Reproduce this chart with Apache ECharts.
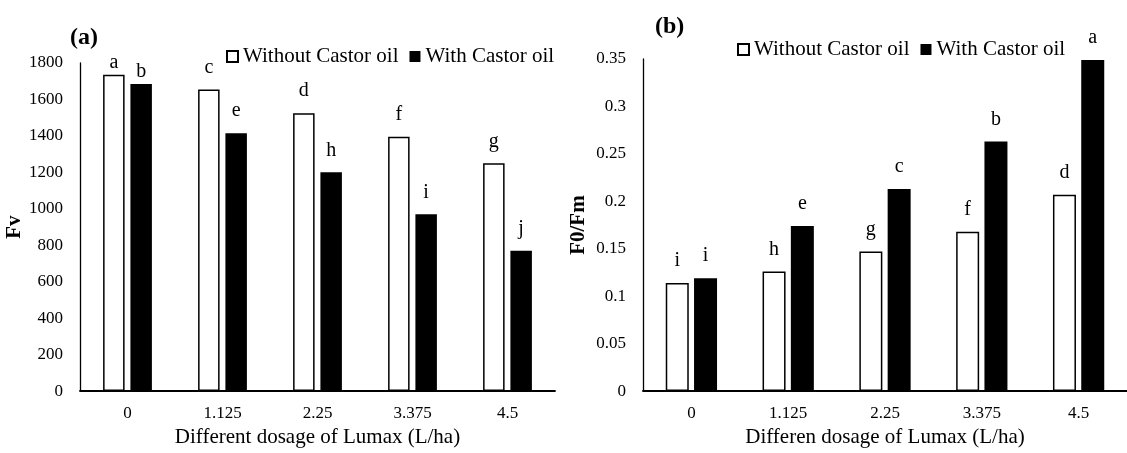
<!DOCTYPE html>
<html>
<head>
<meta charset="utf-8">
<script src="https://cdn.jsdelivr.net/npm/echarts@6/dist/echarts.min.js"></script>
<style>
  html, body { margin: 0; padding: 0; background: #fff; }
  #chart { width: 1127px; height: 453px; }
</style>
</head>
<body>
<div id="chart"></div>
<script>
// dosage categories (L/ha)
var categories = ['0', '1.125', '2.25', '3.375', '4.5'];

// (a) Fv
var fvWithout = [1735, 1655, 1525, 1395, 1250];
var fvWith = [1685, 1415, 1200, 970, 770];
var fvWithoutLetters = ['a', 'c', 'd', 'f', 'g'];
var fvWithLetters = ['b', 'e', 'h', 'i', 'j'];

// (b) F0/Fm
var ratioWithout = [0.114, 0.126, 0.147, 0.168, 0.207];
var ratioWith = [0.119, 0.174, 0.213, 0.263, 0.349];
var ratioWithoutLetters = ['i', 'h', 'g', 'f', 'd'];
var ratioWithLetters = ['i', 'e', 'c', 'b', 'a'];

var FONT = "'Liberation Serif', 'Times New Roman', serif";
var NAME_WITHOUT = 'Without Castor oil';
var NAME_WITH = 'With Castor oil';

function barSeries(name, axisIdx, values, letters, white, tightFirst, barWidth, barGap) {
    return {
        name: name,
        type: 'bar',
        xAxisIndex: axisIdx,
        yAxisIndex: axisIdx,
        barWidth: barWidth,
        barGap: barGap,
        itemStyle: white
            ? { color: '#fff', borderColor: '#000', borderWidth: 1.5 }
            : { color: '#000', borderColor: '#000', borderWidth: 0 },
        label: {
            show: true,
            position: 'top',
            distance: 12,
            fontFamily: FONT,
            fontSize: 20,
            color: '#000',
            formatter: function(p) { return letters[p.dataIndex]; }
        },
        data: values.map(function(v, i) {
            return (tightFirst && i === 0) ? { value: v, label: { distance: 2 } } : v;
        })
    };
}

function xAx(idx, name, gap) {
    return {
        type: 'category',
        gridIndex: idx,
        data: categories,
        axisLine: { lineStyle: { color: '#000', width: 1.8 } },
        axisTick: { show: false },
        axisLabel: { fontFamily: FONT, fontSize: 17, color: '#000', margin: 14 },
        name: name,
        nameLocation: 'middle',
        nameGap: gap,
        nameTextStyle: { fontFamily: FONT, fontSize: 21, color: '#000' }
    };
}

function yAx(idx, name, max, interval, gap) {
    return {
        type: 'value',
        gridIndex: idx,
        min: 0,
        max: max,
        interval: interval,
        axisLine: { show: true, lineStyle: { color: '#000', width: 1.3 } },
        axisTick: { show: false },
        splitLine: { show: false },
        axisLabel: {
            fontFamily: FONT, fontSize: 17, color: '#000', margin: 17,
            formatter: function(v) { return String(+v.toFixed(4)); }
        },
        name: name,
        nameLocation: 'middle',
        nameGap: gap,
        nameTextStyle: { fontFamily: FONT, fontSize: 21, fontWeight: 'bold', color: '#000' }
    };
}

function legendAt(left, top) {
    return {
        left: left,
        top: top,
        padding: 0,
        itemGap: 11,
        itemWidth: 11,
        itemHeight: 11,
        icon: 'rect',
        data: [NAME_WITHOUT, NAME_WITH],
        textStyle: { fontFamily: FONT, fontSize: 21, color: '#000' }
    };
}

var chart = echarts.init(document.getElementById('chart'));
chart.setOption({
    animation: false,
    backgroundColor: '#fff',
    title: [
        { text: '(a)', left: 70, top: 26, padding: 0,
          textStyle: { fontFamily: FONT, fontSize: 24, fontWeight: 'bold', color: '#000' } },
        { text: '(b)', left: 655, top: 15, padding: 0,
          textStyle: { fontFamily: FONT, fontSize: 24, fontWeight: 'bold', color: '#000' } }
    ],
    legend: [legendAt(226, 46), legendAt(737, 39)],
    grid: [
        { left: 80, top: 63, width: 475, height: 340 },
        { left: 643, top: 59, width: 490, height: 339 }
    ],
    xAxis: [
        xAx(0, 'Different dosage of Lumax (L/ha)', 28),
        xAx(1, 'Differen dosage of Lumax (L/ha)', 34)
    ],
    yAxis: [
        yAx(0, 'Fv', 1800, 200, 49),
        yAx(1, 'F0/Fm', 0.35, 0.05, 54)
    ],
    series: [
        barSeries(NAME_WITHOUT, 0, fvWithout, fvWithoutLetters, true, true, 21.5, '27%'),
        barSeries(NAME_WITH, 0, fvWith, fvWithLetters, false, true, 21.5, '27%'),
        barSeries(NAME_WITHOUT, 1, ratioWithout, ratioWithoutLetters, true, false, 23, '23%'),
        barSeries(NAME_WITH, 1, ratioWith, ratioWithLetters, false, false, 23, '23%')
    ]
});
</script>
</body>
</html>
